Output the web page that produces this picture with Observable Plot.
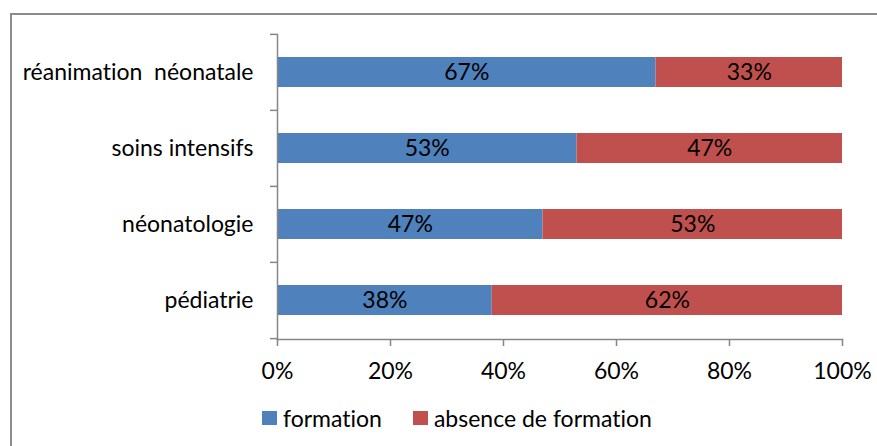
<!DOCTYPE html>
<html>
<head>
<meta charset="utf-8">
<script src="https://cdn.jsdelivr.net/npm/d3@7"></script>
<script src="https://cdn.jsdelivr.net/npm/@observablehq/plot@0.6"></script>
<style>
  html, body { margin: 0; padding: 0; background: #fff; }
  body { width: 877px; height: 446px; position: relative; overflow: hidden;
         font-family: Lato, "Open Sans", sans-serif; font-variant-ligatures: none; }
  #border { position: absolute; left: 10px; top: 13px; width: 900px; height: 500px;
            border-top: 2px solid #8c8c8c; border-left: 2px solid #8c8c8c; }
  #chart { position: absolute; left: 0; top: 0; }
  #chart svg text { white-space: pre; font-variant-ligatures: none; }
  #legend { position: absolute; top: 404px; left: 262px; display: flex; align-items: center;
            font-size: 23px; color: #000; }
  .item { display: flex; align-items: center; }
  .sw { width: 15px; height: 14px; margin-right: 6px; }
</style>
</head>
<body>
<div id="border"></div>
<div id="chart"></div>
<div id="legend"></div>
<script>
// Training coverage by hospital unit (share of staff, %)
const categories = ["réanimation  néonatale", "soins intensifs", "néonatologie", "pédiatrie"];
const formation = [67, 53, 47, 38];
const absence = [33, 47, 53, 62];
const seriesNames = ["formation", "absence de formation"];
const seriesColors = ["#4F81BD", "#C0504D"];
const xTicks = [0, 20, 40, 60, 80, 100];

const rows = categories.flatMap((c, i) => [
  {category: c, series: seriesNames[0], value: formation[i]},
  {category: c, series: seriesNames[1], value: absence[i]}
]);

const width = 877, height = 395;
const marginTop = 34, marginBottom = 56, marginLeft = 277, marginRight = 35;
const step = (height - marginTop - marginBottom) / categories.length;
const axisGray = "#868686";

const chart = Plot.plot({
  width, height, marginTop, marginBottom, marginLeft, marginRight,
  style: {fontFamily: "Lato, 'Open Sans', sans-serif", fontSize: "23px", color: "#000", background: "transparent"},
  x: {domain: [0, 100], axis: null, label: null},
  y: {domain: categories, paddingInner: 0.6, paddingOuter: 0.3, axis: null, label: null},
  color: {domain: seriesNames, range: seriesColors},
  marks: [
    Plot.barX(rows, {x: "value", y: "category", fill: "series", order: seriesNames}),
    Plot.text(rows, Plot.stackX({x: "value", y: "category", z: "series", order: seriesNames,
      text: d => d.value + "%", fill: "#000"})),
    Plot.frame({anchor: "left", stroke: axisGray, strokeWidth: 1.5}),
    Plot.frame({anchor: "bottom", stroke: axisGray, strokeWidth: 1.5}),
    // category boundary ticks on the left axis
    Plot.ruleY(categories, {y: d => d, x1: 0, x2: 0, insetLeft: -7, dy: -step / 2, stroke: axisGray, strokeWidth: 1.5}),
    Plot.ruleY(categories.slice(-1), {y: d => d, x1: 0, x2: 0, insetLeft: -7, dy: step / 2, stroke: axisGray, strokeWidth: 1.5}),
    Plot.axisY({tickSize: 0, tickPadding: 24, fill: "#000", label: null}),
    Plot.axisX({ticks: xTicks, tickSize: 7, tickPadding: 16, tickFormat: d => d + "%",
      stroke: axisGray, strokeWidth: 1.5, fill: "#000", label: null})
  ]
});
document.getElementById("chart").append(chart);

const legend = document.getElementById("legend");
seriesNames.forEach((name, i) => {
  const item = document.createElement("div");
  item.className = "item";
  item.style.marginRight = i === 0 ? "31px" : "0";
  const sw = document.createElement("div");
  sw.className = "sw";
  sw.style.background = seriesColors[i];
  const label = document.createElement("span");
  label.textContent = name;
  item.append(sw, label);
  legend.append(item);
});
</script>
</body>
</html>
